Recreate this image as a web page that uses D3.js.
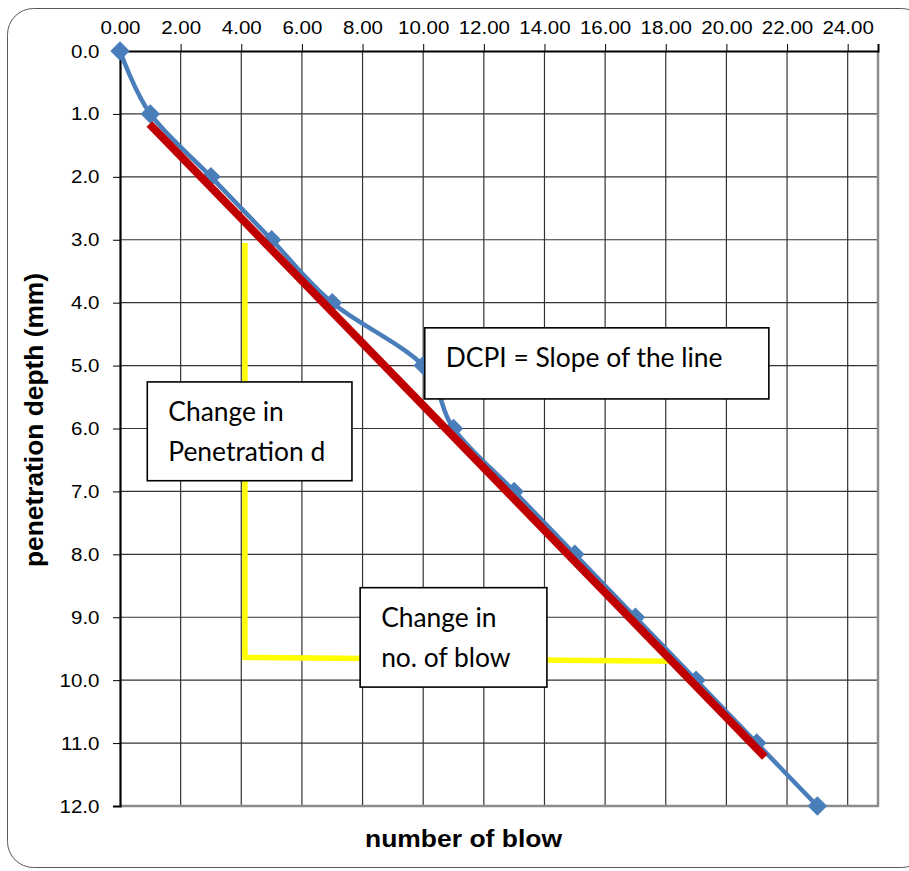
<!DOCTYPE html>
<html><head><meta charset="utf-8">
<script src="https://cdn.jsdelivr.net/npm/d3@7"></script>
<style>body{margin:0;background:#fff}svg{display:block}</style>
</head><body>
<svg id="c" width="909" height="871"></svg>
<script>
const blows = [0, 1, 3, 5, 7, 10, 11, 13, 15, 17, 19, 21, 23];
const depths = [0, 1, 2, 3, 4, 5, 6, 7, 8, 9, 10, 11, 12];
const xTicks = [0, 2, 4, 6, 8, 10, 12, 14, 16, 18, 20, 22, 24];
const yTicks = [0, 1, 2, 3, 4, 5, 6, 7, 8, 9, 10, 11, 12];
const fitX = [0.97, 21.27];
const fitY = [1.16, 11.22];
const guideX = [4.12, 4.12, 18.2];
const guideY = [3.05, 9.64, 9.7];
const notes = [
  {x0: 10.05, y0: 4.4, x1: 21.4, y1: 5.53, lines: ["DCPI = Slope of the line"]},
  {x0: 0.9, y0: 5.26, x1: 7.65, y1: 6.83, lines: ["Change in", "Penetration d"]},
  {x0: 7.92, y0: 8.53, x1: 14.08, y1: 10.11, lines: ["Change in", "no. of blow"]}
];

const svg = d3.select("#c");
const L = 120, R = 878, T = 51, B = 806;
const x = d3.scaleLinear().domain([0, 25]).range([L, R]);
const y = d3.scaleLinear().domain([0, 12]).range([T, B]);
const SANS = "Liberation Sans, Arial, Helvetica, sans-serif";

// outer rounded frame
svg.append("rect").attr("x", 7.5).attr("y", 8.5).attr("width", 920).attr("height", 859)
  .attr("rx", 26).attr("fill", "none").attr("stroke", "#595959").attr("stroke-width", 1);

// gridlines
const g = svg.append("g");
g.selectAll("line.vx").data(xTicks.filter(d => d > 0)).join("line")
  .attr("x1", d => x(d)).attr("x2", d => x(d)).attr("y1", T).attr("y2", B)
  .attr("stroke", "#333").attr("stroke-width", 1.2);
g.selectAll("line.hy").data(yTicks.filter(d => d > 0 && d < 12)).join("line")
  .attr("y1", d => y(d)).attr("y2", d => y(d)).attr("x1", L).attr("x2", R)
  .attr("stroke", "#333").attr("stroke-width", 1.2);

// plot borders
svg.append("line").attr("x1", R).attr("x2", R).attr("y1", T).attr("y2", B + 1)
  .attr("stroke", "#8c8c8c").attr("stroke-width", 2.5);
svg.append("line").attr("x1", L).attr("x2", R + 1).attr("y1", B).attr("y2", B)
  .attr("stroke", "#8c8c8c").attr("stroke-width", 2.5);

// axes
const xAxis = d3.axisTop(x).tickValues(xTicks).tickFormat(d3.format(".2f")).tickSizeOuter(0).tickSize(7).tickPadding(10);
const ax = svg.append("g").attr("transform", `translate(0,${T})`).call(xAxis);
ax.attr("font-family", null).attr("font-size", null);
ax.select(".domain").attr("stroke", "#000").attr("stroke-width", 2);
ax.selectAll(".tick line").attr("stroke", "#000");
ax.selectAll("text").style("font-family", SANS).style("font-size", "19px").attr("fill", "#000")
  .attr("transform", "scale(1.08,1)");

const yAxis = d3.axisLeft(y).tickValues(yTicks).tickFormat(d3.format(".1f")).tickSizeOuter(0).tickSize(7).tickPadding(12);
const ay = svg.append("g").attr("transform", `translate(${L},0)`).call(yAxis);
ay.attr("font-family", null).attr("font-size", null);
ay.select(".domain").attr("stroke", "#000").attr("stroke-width", 2.2);
ay.selectAll(".tick line").attr("stroke", "#000");
ay.selectAll("text").style("font-family", SANS).style("font-size", "19px").attr("fill", "#000")
  .attr("transform", "scale(1.08,1)");

// yellow guide lines
const guide = d3.range(guideX.length).map(i => [guideX[i], guideY[i]]);
svg.append("path").datum(guide)
  .attr("d", d3.line().x(d => x(d[0])).y(d => y(d[1])))
  .attr("fill", "none").attr("stroke", "#ffff00").attr("stroke-width", 5.5).attr("stroke-linejoin", "miter");

// blue smoothed data line
const pts = blows.map((b, i) => [b, depths[i]]);
svg.append("path").datum(pts)
  .attr("d", d3.line().x(d => x(d[0])).y(d => y(d[1])).curve(d3.curveCardinal.tension(0)))
  .attr("fill", "none").attr("stroke", "#4a7ebb").attr("stroke-width", 4.5);
svg.selectAll("path.mk").data(pts).join("path").attr("class", "mk")
  .attr("d", d3.symbol(d3.symbolSquare, 190))
  .attr("transform", d => `translate(${x(d[0])},${y(d[1])}) rotate(45)`)
  .attr("fill", "#4a7ebb");

// red fit line
svg.append("path").datum([[fitX[0], fitY[0]], [fitX[1], fitY[1]]])
  .attr("d", d3.line().x(d => x(d[0])).y(d => y(d[1])))
  .attr("stroke", "#c00000").attr("stroke-width", 8).attr("fill", "none");

// note boxes
notes.forEach(n => {
  const bx = x(n.x0), by = y(n.y0), bw = x(n.x1) - x(n.x0), bh = y(n.y1) - y(n.y0);
  svg.append("rect").attr("x", bx).attr("y", by).attr("width", bw).attr("height", bh)
    .attr("fill", "#fff").attr("stroke", "#000").attr("stroke-width", 1.6);
  n.lines.forEach((t, i) => {
    svg.append("text").attr("x", bx + 21).attr("y", by + 39 + i * 40)
      .style("font-family", "Lato, Open Sans, sans-serif").style("font-size", "26.4px").attr("fill", "#000").text(t);
  });
});

// axis titles
svg.append("text").attr("transform", `translate(43,420) rotate(-90)`)
  .attr("text-anchor", "middle").style("font-family", SANS)
  .style("font-weight", "bold").style("font-size", "25px")
  .attr("textLength", 294).attr("lengthAdjust", "spacingAndGlyphs").text("penetration depth (mm)");
svg.append("text").attr("x", 463.5).attr("y", 847)
  .attr("text-anchor", "middle").style("font-family", SANS)
  .style("font-weight", "bold").style("font-size", "24.5px")
  .attr("textLength", 197).attr("lengthAdjust", "spacingAndGlyphs").text("number of blow");
</script>
</body></html>
